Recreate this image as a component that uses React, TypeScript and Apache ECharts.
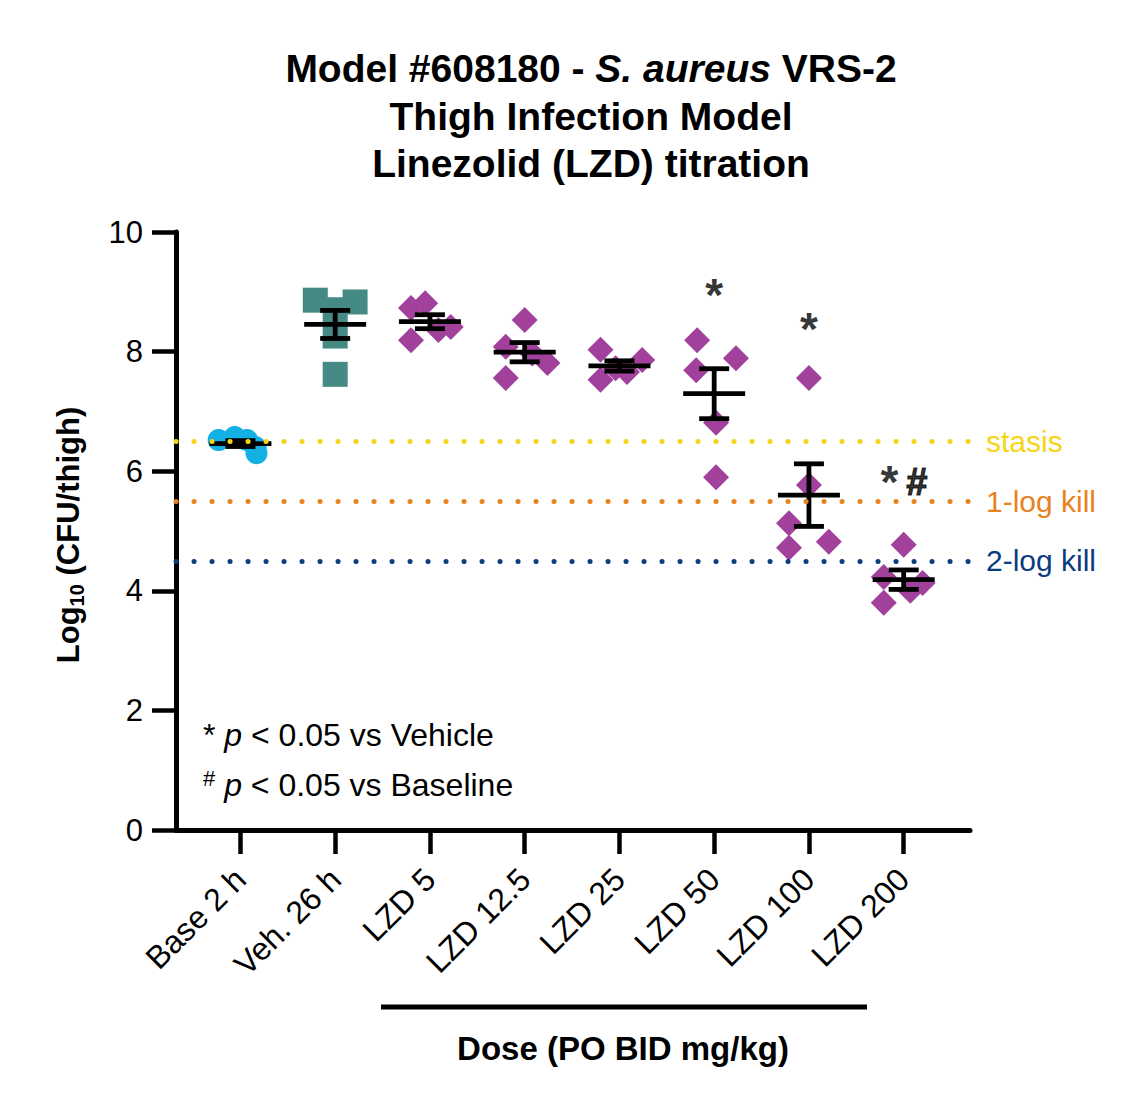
import { useEffect, useRef } from "react";
import * as echarts from "echarts";

const categories = ["Base 2 h", "Veh. 26 h", "LZD 5", "LZD 12.5", "LZD 25", "LZD 50", "LZD 100", "LZD 200"];

// log10 CFU/thigh per animal
const baseValues = [6.52, 6.57, 6.52, 6.4, 6.3];
const vehValues = [8.86, 8.83, 8.7, 8.26, 7.62];
const lzd5Values = [8.73, 8.81, 8.36, 8.41, 8.19];
const lzd12Values = [8.53, 8.08, 7.81, 7.56, 7.97];
const lzd25Values = [8.03, 7.53, 7.66, 7.86, 7.72];
const lzd50Values = [8.19, 7.89, 7.69, 6.81, 5.9];
const lzd100Values = [7.56, 5.77, 5.13, 4.82, 4.72];
const lzd200Values = [4.77, 4.23, 4.13, 3.8, 4.0];

// horizontal scatter of the dots within a column (in category units)
const baseJitter = [-0.23, -0.06, 0.07, 0.16, 0.17];
const vehJitter = [-0.21, 0.21, 0, 0, 0];
const lzd5Jitter = [-0.2, -0.05, 0.09, 0.22, -0.2];
const lzd12Jitter = [0, -0.2, 0.24, -0.2, 0.08];
const lzd25Jitter = [-0.2, -0.2, 0.08, 0.24, -0.04];
const lzd50Jitter = [-0.18, 0.23, -0.19, 0.02, 0.02];
const lzd100Jitter = [0, 0, -0.21, 0.21, -0.21];
const lzd200Jitter = [0, -0.21, 0.2, -0.21, 0.07];

const refLevels = [6.5, 5.5, 4.5];
const refNames = ["stasis", "1-log kill", "2-log kill"];
const refColors = ["#f7d417", "#e9811f", "#0b3c80"];

const sigCategory = [5, 6, 7];
const sigLevel = [8.95, 8.37, 5.82];
const sigText = ["{a|*}", "{a|*}", "{a|*}{g| }{h|#}"];

const FONT = "'Liberation Sans', Arial, sans-serif";

const mean = (a: number[]) => a.reduce((s, v) => s + v, 0) / a.length;
const sem = (a: number[]) => {
  const m = mean(a);
  const sd = Math.sqrt(a.reduce((s, v) => s + (v - m) * (v - m), 0) / (a.length - 1));
  return sd / Math.sqrt(a.length);
};

export default function App() {
  const chartRef = useRef<HTMLDivElement>(null);

  useEffect(() => {
    document.body.style.margin = "0";
    if (!chartRef.current) return;
    const chart = echarts.init(chartRef.current, null, { renderer: "svg" });

    const groups = [baseValues, vehValues, lzd5Values, lzd12Values, lzd25Values, lzd50Values, lzd100Values, lzd200Values];
    const jitters = [baseJitter, vehJitter, lzd5Jitter, lzd12Jitter, lzd25Jitter, lzd50Jitter, lzd100Jitter, lzd200Jitter];

    const pts = (i: number) => groups[i].map((v, k) => [i + jitters[i][k], v]);
    const lzdPts = [2, 3, 4, 5, 6, 7].flatMap((i) => pts(i));
    const errData = groups.map((g, i) => [i, mean(g), sem(g)]);

    const option: any = {
      animation: false,
      backgroundColor: "#ffffff",
      textStyle: { fontFamily: FONT },
      grid: { left: 176, right: 172, top: 232, bottom: 280, containLabel: false, outerBoundsMode: "none" },
      xAxis: {
        type: "value",
        min: -0.68,
        max: 7.7,
        axisLine: { show: true, onZero: false, lineStyle: { color: "#000", width: 5 } },
        axisTick: {
          show: true,
          customValues: [0, 1, 2, 3, 4, 5, 6, 7],
          length: 24,
          lineStyle: { color: "#000", width: 4.5 },
        },
        axisLabel: {
          customValues: [0, 1, 2, 3, 4, 5, 6, 7],
          rotate: 45,
          margin: 44,
          fontSize: 32,
          color: "#000",
          fontFamily: FONT,
          formatter: (v: number) => categories[Math.round(v)] ?? "",
        },
        splitLine: { show: false },
      },
      yAxis: {
        type: "value",
        min: 0,
        max: 10,
        interval: 2,
        axisLine: { show: true, onZero: false, lineStyle: { color: "#000", width: 5 } },
        axisTick: { show: true, length: 24, lineStyle: { color: "#000", width: 4.5 } },
        axisLabel: { fontSize: 31, color: "#000", margin: 33, fontFamily: FONT },
        splitLine: { show: false },
      },
      series: [
        {
          type: "scatter",
          z: 2,
          symbol: "circle",
          symbolSize: 22,
          itemStyle: { color: "#13b0e4", opacity: 1 },
          data: pts(0),
        },
        {
          type: "scatter",
          z: 2,
          symbol: "rect",
          symbolSize: 25,
          itemStyle: { color: "#458a84", opacity: 1 },
          data: pts(1),
        },
        {
          type: "scatter",
          z: 2,
          symbol: "diamond",
          symbolSize: [26, 26],
          itemStyle: { color: "#a2419c", opacity: 1 },
          data: lzdPts,
        },
        {
          type: "custom",
          z: 3,
          data: errData,
          renderItem: (params: any, api: any) => {
            const x = api.value(0);
            const m = api.value(1);
            const e = api.value(2);
            const c = api.coord([x, m]);
            const t = api.coord([x, m + e]);
            const b = api.coord([x, m - e]);
            const style = { stroke: "#000", lineWidth: 4.8, fill: null };
            return {
              type: "group",
              children: [
                { type: "line", shape: { x1: c[0] - 31, y1: c[1], x2: c[0] + 31, y2: c[1] }, style },
                { type: "line", shape: { x1: c[0], y1: t[1], x2: c[0], y2: b[1] }, style },
                { type: "line", shape: { x1: c[0] - 15, y1: t[1], x2: c[0] + 15, y2: t[1] }, style },
                { type: "line", shape: { x1: c[0] - 15, y1: b[1], x2: c[0] + 15, y2: b[1] }, style },
              ],
            };
          },
        },
        {
          type: "line",
          z: 5,
          data: [],
          markLine: {
            silent: true,
            symbol: ["none", "none"],
            data: refLevels.map((y, i) => ({
              yAxis: y,
              name: refNames[i],
              lineStyle: { color: refColors[i], width: 5, type: [0.1, 17.9], cap: "round" },
              label: {
                show: true,
                position: "end",
                distance: 16,
                formatter: "{b}",
                color: refColors[i],
                fontSize: 30,
                fontFamily: FONT,
              },
            })),
          },
        },
        {
          type: "scatter",
          z: 6,
          symbolSize: 1,
          itemStyle: { color: "rgba(0,0,0,0)" },
          data: sigCategory.map((c, i) => [c, sigLevel[i], sigText[i]]),
          label: {
            show: true,
            position: "inside",
            color: "#000",
            fontWeight: "bold",
            textBorderWidth: 0,
            formatter: (p: any) => p.value[2],
            rich: {
              a: { fontSize: 46, fontWeight: "bold", color: "#000", fontFamily: FONT, textBorderWidth: 0 },
              g: { fontSize: 26, color: "#000", fontFamily: FONT },
              h: {
                fontSize: 38,
                fontWeight: "bold",
                fontStyle: "italic",
                color: "#000",
                fontFamily: FONT,
                textBorderColor: "#000",
                textBorderWidth: 1.2,
              },
            },
          },
        },
      ],
      graphic: [
        {
          type: "text",
          x: 591,
          y: 68,
          style: {
            text: "{b|Model #608180 - }{i|S. aureus}{b| VRS-2}",
            align: "center",
            verticalAlign: "middle",
            rich: {
              b: { fontSize: 39, fontWeight: "bold", fill: "#000", fontFamily: FONT },
              i: { fontSize: 39, fontWeight: "bold", fontStyle: "italic", fill: "#000", fontFamily: FONT },
            },
          },
        },
        {
          type: "text",
          x: 591,
          y: 116,
          style: {
            text: "Thigh Infection Model",
            align: "center",
            verticalAlign: "middle",
            fontSize: 39,
            fontWeight: "bold",
            fill: "#000",
            fontFamily: FONT,
          },
        },
        {
          type: "text",
          x: 591,
          y: 163,
          style: {
            text: "Linezolid (LZD) titration",
            align: "center",
            verticalAlign: "middle",
            fontSize: 39,
            fontWeight: "bold",
            fill: "#000",
            fontFamily: FONT,
          },
        },
        {
          type: "text",
          x: 68,
          y: 535,
          rotation: Math.PI / 2,
          style: {
            text: "{b|Log}{s|10}{b| (CFU/thigh)}",
            align: "center",
            verticalAlign: "middle",
            rich: {
              b: { fontSize: 31, fontWeight: "bold", fill: "#000", fontFamily: FONT, lineHeight: 38 },
              s: { fontSize: 20, fontWeight: "bold", fill: "#000", fontFamily: FONT, verticalAlign: "bottom", lineHeight: 38 },
            },
          },
        },
        {
          type: "text",
          x: 203,
          y: 735,
          style: {
            text: "{n|* }{i|p}{n| < 0.05 vs Vehicle}",
            align: "left",
            verticalAlign: "middle",
            rich: {
              n: { fontSize: 32, fill: "#000", fontFamily: FONT },
              i: { fontSize: 32, fontStyle: "italic", fill: "#000", fontFamily: FONT },
            },
          },
        },
        {
          type: "text",
          x: 203,
          y: 785,
          style: {
            text: "{s|#}{n| }{i|p}{n| < 0.05 vs Baseline}",
            align: "left",
            verticalAlign: "middle",
            rich: {
              s: { fontSize: 22, fill: "#000", fontFamily: FONT, verticalAlign: "top", lineHeight: 36 },
              n: { fontSize: 32, fill: "#000", fontFamily: FONT, lineHeight: 36 },
              i: { fontSize: 32, fontStyle: "italic", fill: "#000", fontFamily: FONT, lineHeight: 36 },
            },
          },
        },
        {
          type: "line",
          shape: { x1: 381, y1: 1007, x2: 867, y2: 1007 },
          style: { stroke: "#000", lineWidth: 5 },
        },
        {
          type: "text",
          x: 623,
          y: 1048,
          style: {
            text: "Dose (PO BID mg/kg)",
            align: "center",
            verticalAlign: "middle",
            fontSize: 33,
            fontWeight: "bold",
            fill: "#000",
            fontFamily: FONT,
          },
        },
      ],
    };

    chart.setOption(option);

    return () => {
      chart.dispose();
    };
  }, []);

  return <div ref={chartRef} style={{ width: 1142, height: 1110 }} />;
}
